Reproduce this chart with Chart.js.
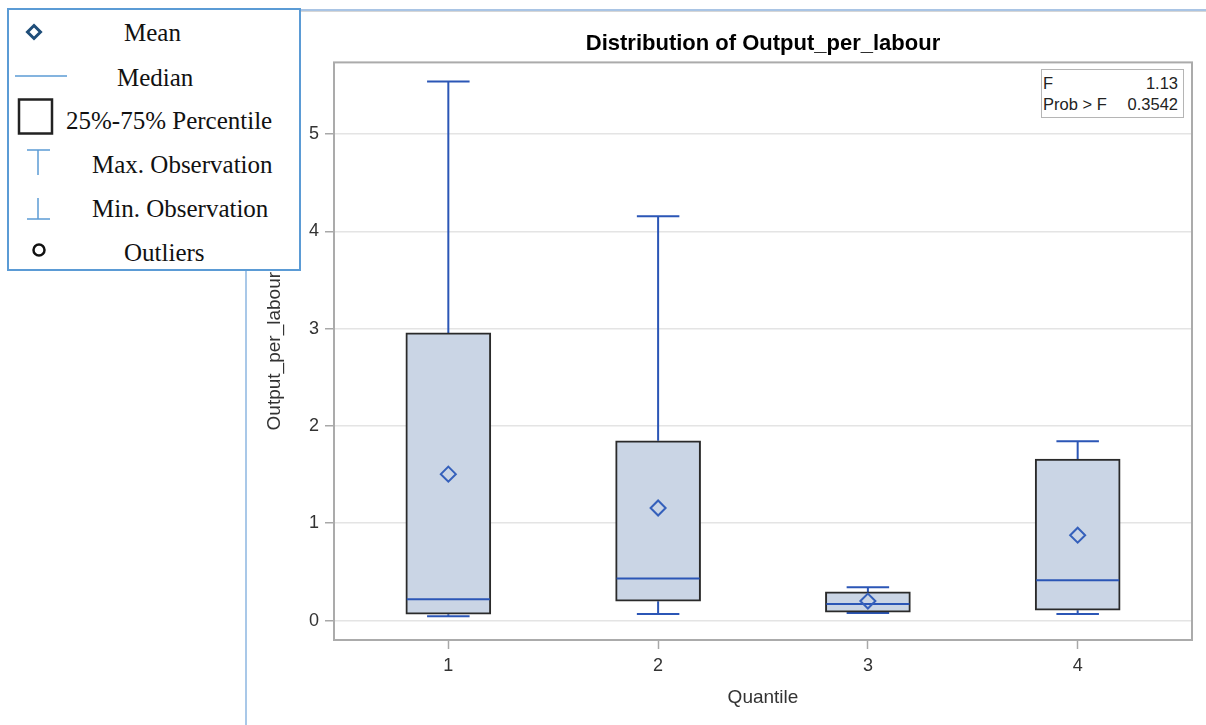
<!DOCTYPE html>
<html>
<head>
<meta charset="utf-8">
<title>Distribution of Output_per_labour</title>
<script src="https://cdn.jsdelivr.net/npm/chart.js@4.4.0/dist/chart.umd.min.js"></script>
<style>
  body { margin: 0; background: #fff; }
  #wrap { position: relative; width: 1206px; height: 725px; overflow: hidden; }
  #chart { position: absolute; left: 0; top: 0; }
  .rule { position: absolute; }
  #stats { position: absolute; left: 1041px; top: 69px; width: 141px; height: 47px; border: 1px solid #b5b5b5; background: #fff;
           font: 16.5px 'Liberation Sans', Arial, sans-serif; color: #222; }
  #stats span { position: absolute; line-height: 20px; white-space: nowrap; }
  #legend { position: absolute; left: 7px; top: 8px; width: 290px; height: 259px; border: 2px solid #5b9bd5; background: #fff; }
  .lg { position: absolute; font: 25px 'Liberation Serif', 'Times New Roman', serif; color: #111; line-height: 28px; white-space: nowrap; }
  #icons { position: absolute; left: 0; top: 0; }
</style>
</head>
<body>
<div id="wrap">
  <canvas id="chart" width="1206" height="725"></canvas>

  <div class="rule" style="left:301px;top:9px;width:905px;height:2px;background:#a9c4e4;"></div>
  <div class="rule" style="left:301px;top:11px;width:905px;height:1px;background:#d6d6d6;"></div>
  <div class="rule" style="left:245px;top:271px;width:2px;height:454px;background:#a9c8e8;"></div>

  <div id="stats">
    <span style="left:1px;top:3px;">F</span>
    <span style="right:5px;top:3px;">1.13</span>
    <span style="left:1px;top:24px;">Prob &gt; F</span>
    <span style="right:5px;top:24px;">0.3542</span>
  </div>

  <div id="legend"></div>
  <svg id="icons" width="310" height="280">
    <polygon points="34,25.5 40.5,32 34,38.5 27.5,32" fill="none" stroke="#1f4e79" stroke-width="3"/>
    <line x1="15" y1="76" x2="67" y2="76" stroke="#5b9bd5" stroke-width="1.5"/>
    <rect x="19" y="99.5" width="33" height="34" fill="none" stroke="#222" stroke-width="2.5"/>
    <line x1="27" y1="150" x2="50" y2="150" stroke="#5b9bd5" stroke-width="1.5"/>
    <line x1="38" y1="150" x2="38" y2="175" stroke="#5b9bd5" stroke-width="1.5"/>
    <line x1="38" y1="198" x2="38" y2="219" stroke="#5b9bd5" stroke-width="1.5"/>
    <line x1="27" y1="219" x2="50" y2="219" stroke="#5b9bd5" stroke-width="1.5"/>
    <circle cx="39" cy="250" r="5.5" fill="none" stroke="#111" stroke-width="2.5"/>
  </svg>
  <div class="lg" style="left:124px;top:19px;">Mean</div>
  <div class="lg" style="left:117px;top:64px;">Median</div>
  <div class="lg" style="left:66px;top:107px;">25%-75% Percentile</div>
  <div class="lg" style="left:92px;top:151px;">Max. Observation</div>
  <div class="lg" style="left:92px;top:195px;">Min. Observation</div>
  <div class="lg" style="left:124px;top:239px;">Outliers</div>
</div>

<script>
// quantile groups and their box plot statistics
const quantiles = ['1', '2', '3', '4'];
const xPos = [1, 2, 3, 4];
const maxObs = [5.54, 4.155, 0.342, 1.843];
const q3 = [2.955, 1.847, 0.294, 1.658];
const median = [0.219, 0.432, 0.171, 0.414];
const q1 = [0.065, 0.198, 0.085, 0.106];
const minObs = [0.044, 0.068, 0.078, 0.068];
const means = [1.504, 1.156, 0.2, 0.877];
const yTicks = [0, 1, 2, 3, 4, 5];

const blue = '#2b56b6';

Chart.defaults.font.family = "'Liberation Sans', Arial, sans-serif";
Chart.defaults.color = '#333';

// whiskers, caps, medians and plot frame
const boxPlot = {
  id: 'boxPlot',
  beforeDatasetsDraw(chart) {
    const { ctx, chartArea, scales } = chart;
    ctx.save();
    ctx.strokeStyle = '#ababab';
    ctx.lineWidth = 2;
    ctx.strokeRect(chartArea.left, chartArea.top, chartArea.right - chartArea.left, chartArea.bottom - chartArea.top);

    const bars = chart.getDatasetMeta(0).data;
    ctx.strokeStyle = blue;
    ctx.lineWidth = 2;
    xPos.forEach((x, i) => {
      const px = scales.x.getPixelForValue(x);
      const half = bars[i].width / 4;
      const yMax = scales.y.getPixelForValue(maxObs[i]);
      const yMin = scales.y.getPixelForValue(minObs[i]);
      ctx.beginPath();
      ctx.moveTo(px, scales.y.getPixelForValue(q3[i]));
      ctx.lineTo(px, yMax);
      ctx.moveTo(px - half, yMax);
      ctx.lineTo(px + half, yMax);
      ctx.moveTo(px, scales.y.getPixelForValue(q1[i]));
      ctx.lineTo(px, yMin);
      ctx.moveTo(px - half, yMin);
      ctx.lineTo(px + half, yMin);
      ctx.stroke();
    });
    ctx.restore();
  },
  afterDatasetDraw(chart, args) {
    if (args.index !== 0) return;
    const { ctx, scales } = chart;
    const bars = args.meta.data;
    ctx.save();
    ctx.strokeStyle = blue;
    ctx.lineWidth = 2;
    xPos.forEach((x, i) => {
      const px = scales.x.getPixelForValue(x);
      const w = bars[i].width / 2 - 1;
      const py = scales.y.getPixelForValue(median[i]);
      ctx.beginPath();
      ctx.moveTo(px - w, py);
      ctx.lineTo(px + w, py);
      ctx.stroke();
    });
    ctx.restore();
  }
};

new Chart(document.getElementById('chart'), {
  type: 'bar',
  data: {
    datasets: [{
      type: 'bar',
      label: '25%-75% Percentile',
      data: xPos.map((x, i) => ({ x: x, y: [q1[i], q3[i]] })),
      backgroundColor: '#cad5e5',
      borderColor: '#2a2a2a',
      borderWidth: 2,
      borderSkipped: false,
      barThickness: 85,
      order: 2
    }, {
      type: 'scatter',
      label: 'Mean',
      data: xPos.map((x, i) => ({ x: x, y: means[i] })),
      pointStyle: 'rectRot',
      pointRadius: 7.5,
      borderColor: '#3560bb',
      borderWidth: 2,
      backgroundColor: 'rgba(0,0,0,0)',
      order: 1
    }]
  },
  options: {
    responsive: false,
    animation: false,
    layout: { padding: { left: 259, right: 14, top: 0, bottom: 12 } },
    plugins: {
      legend: { display: false },
      tooltip: { enabled: false },
      title: {
        display: true,
        fullSize: false,
        text: 'Distribution of Output_per_labour',
        color: '#000',
        font: { size: 22, weight: 'bold' },
        padding: { top: 31, bottom: 5 }
      }
    },
    scales: {
      x: {
        type: 'linear',
        offset: false,
        min: 0.455,
        max: 4.545,
        afterBuildTicks: (s) => { s.ticks = xPos.map(v => ({ value: v })); },
        afterFit: (s) => { s.height = 73; },
        ticks: {
          callback: (v) => quantiles[xPos.indexOf(v)],
          font: { size: 18 },
          padding: 6
        },
        grid: { offset: false, drawOnChartArea: false, tickLength: 9, tickColor: '#a8a8a8', tickWidth: 1.5 },
        border: { display: false },
        title: { display: true, text: 'Quantile', font: { size: 19 }, color: '#333', padding: { top: 4, bottom: 4 } }
      },
      y: {
        min: -0.2,
        max: 5.735,
        afterBuildTicks: (s) => { s.ticks = yTicks.map(v => ({ value: v })); },
        afterFit: (s) => { s.width = 75; },
        ticks: { font: { size: 18 }, padding: 6 },
        grid: { color: '#e4e4e4', lineWidth: 1.5, tickLength: 9, tickColor: '#a8a8a8', tickWidth: 1.5 },
        border: { display: false },
        title: { display: true, text: 'Output_per_labour', font: { size: 19 }, color: '#333', padding: { top: 4, bottom: 4 } }
      }
    }
  },
  plugins: [boxPlot]
});
</script>
</body>
</html>
